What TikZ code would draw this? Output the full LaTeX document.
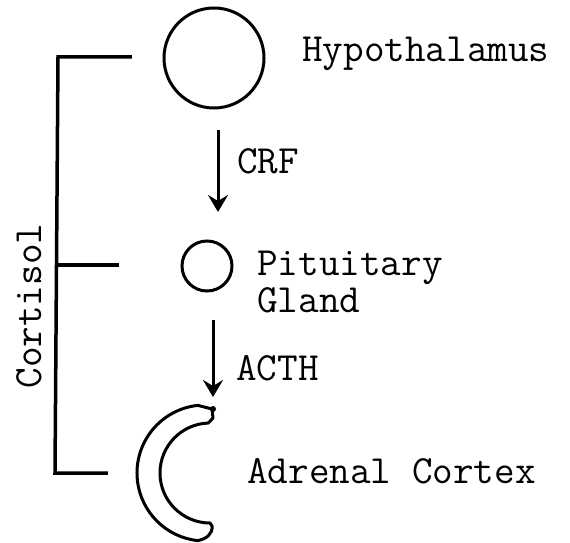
\documentclass[tikz,border=0pt]{standalone}
\usepackage{fontspec}
\usetikzlibrary{arrows.meta}
\newcommand\twtext{\ttfamily\fontsize{40}{37}\selectfont\addfontfeatures{FakeBold=1.5}}
\begin{document}
\begin{tikzpicture}[x=1pt,y=1pt,
  organ/.style={circle,draw,line width=3pt,inner sep=0pt},
  lbl/.style={font=\twtext,inner sep=0pt,anchor=base west},
  flow/.style={line width=3pt,-{Stealth[length=17pt,width=20pt,inset=6pt]}},
  brk/.style={line width=3.5pt,line cap=rect}]
\useasboundingbox (0,0) rectangle (570,542);
% organs
\node[organ,minimum size=100pt] (hyp) at (214,484) {};
\node[organ,minimum size=50pt] (pit) at (207,276) {};
\coordinate (adr) at (205,69);
\draw[line width=3pt,line join=round]
  (adr) ++(96:68) arc[start angle=96,end angle=264,radius=68]
  .. controls (206,3) and (213,8) .. (212,16)
  -- (210,19) arc[start angle=270,end angle=92,radius=50]
  -- (213,124) -- (212,133)
  -- cycle;
\fill (213,133) circle (3pt);
% labels
\node[lbl] (thyp) at (302,480) {Hypothalamus};
\node[lbl] (tcrf) at (237,369) {CRF};
\node[lbl,align=left,anchor=north west] (tpit) at (257,291) {Pituitary\\Gland};
\node[lbl] (tact) at (236,162) {ACTH};
\node[lbl] (tadr) at (247,59) {Adrenal Cortex};
\node[font=\twtext,inner sep=0pt,rotate=90] (tcor) at (29,236) {Cortisol};
% hormone arrows
\coordinate (crfs) at (218,412);
\coordinate (crfe) at (218,330);
\coordinate (acts) at (213,222);
\coordinate (acte) at (213,145);
\draw[flow] (crfs) -- (crfe);
\draw[flow] (acts) -- (acte);
% feedback bracket
\coordinate (bt) at (58,485);
\coordinate (bm) at (57,277);
\coordinate (bb) at (55,69);
\coordinate (et) at (130,485);
\coordinate (em) at (117,277);
\coordinate (eb) at (106,69);
\draw[brk] (et) -- (bt) -- (bb) -- (eb);
\draw[brk] (bm) -- (em);
\end{tikzpicture}
\end{document}
